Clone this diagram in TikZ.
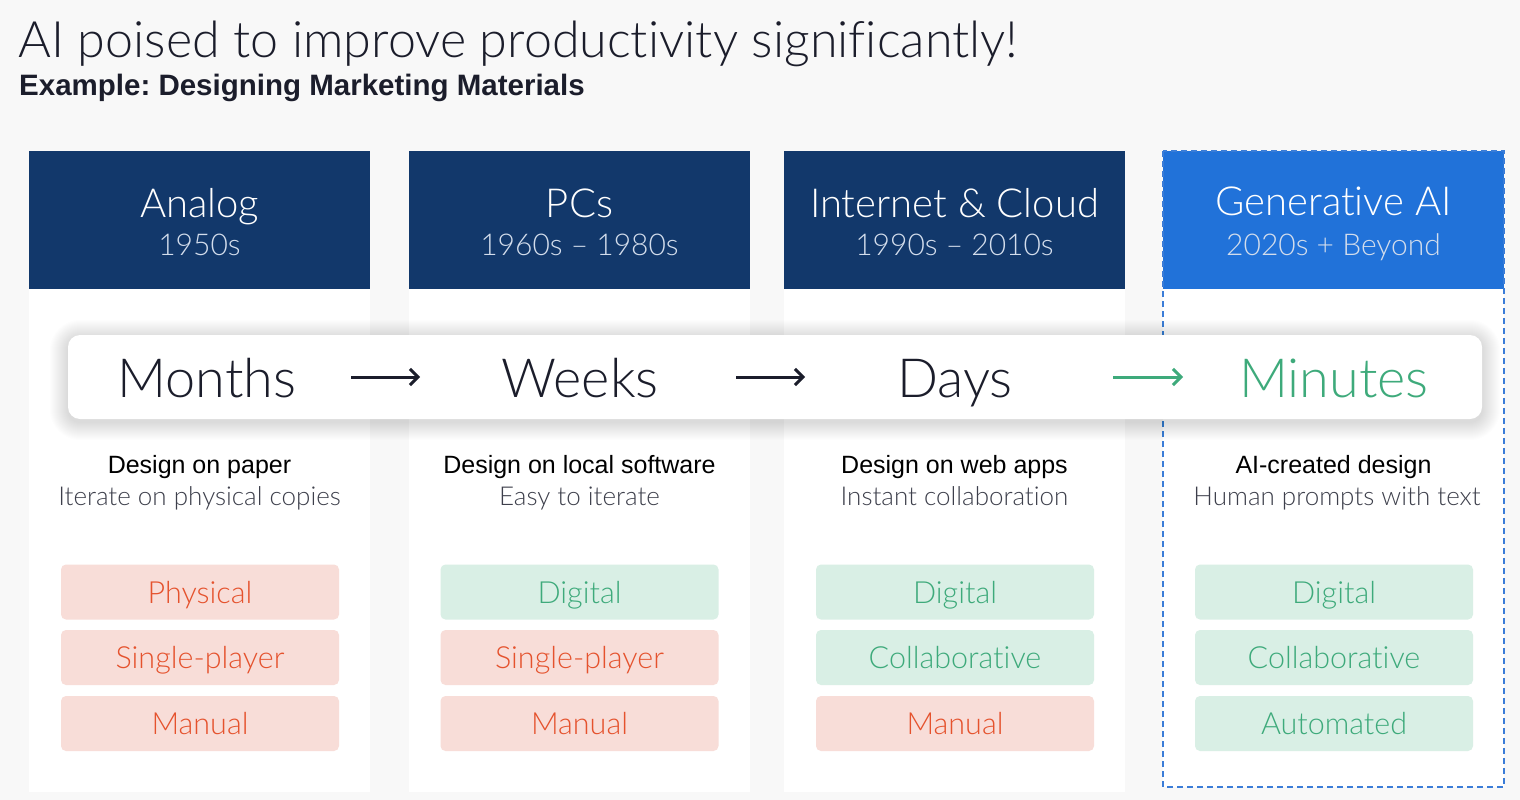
\documentclass[tikz,border=0pt]{standalone}
\usepackage{fontspec}
\setmainfont{Lato}[Ligatures=NoCommon]
\newfontfamily\lightfont{Lato Light}[Ligatures=NoCommon]
\newfontfamily\arialfont{Liberation Sans}
\usetikzlibrary{arrows.meta}
\frenchspacing

\definecolor{pagebg}{HTML}{F8F8F8}
\definecolor{navy}{HTML}{12386B}
\definecolor{aiblue}{HTML}{2172D9}
\definecolor{dashblue}{HTML}{3B7DD8}
\definecolor{ink}{HTML}{1B1D2B}
\definecolor{yearink}{HTML}{D3DDEC}
\definecolor{mint}{HTML}{3EAA7B}
\definecolor{mintbg}{HTML}{D9EFE5}
\definecolor{coral}{HTML}{E5522D}
\definecolor{coralbg}{HTML}{F8DDD8}

\newcommand{\fs}[1]{\fontsize{#1}{#1}\selectfont}

\begin{document}
\begin{tikzpicture}[x=1pt,y=-1pt,
  panel/.style={fill=white, draw=none, minimum width=341pt, minimum height=641pt, inner sep=0pt, anchor=north},
  header/.style={fill=navy, minimum width=341pt, minimum height=138pt, inner sep=0pt, anchor=north},
  era/.style={anchor=base, text=white, font=\lightfont\fs{40}},
  years/.style={anchor=base, text=yearink, font=\lightfont\fs{30}},
  band/.style={fill=white, rounded corners=12pt, minimum width=1414pt, minimum height=84pt, inner sep=0pt},
  haze/.style={fill=black, fill opacity=0.009},
  pace/.style={anchor=base, text=ink, font=\lightfont\fs{54}},
  flow/.style={line width=3pt, -{Straight Barb[length=8pt,width=16pt,line width=3pt]}},
  what/.style={anchor=base, text=black, font=\arialfont\fs{25}},
  how/.style={anchor=base, text=ink!85, font=\lightfont\fs{26}},
  tag/.style={rounded corners=5pt, minimum width=278pt, minimum height=55pt, inner sep=0pt,
    text height=22pt, text depth=0pt, font=\lightfont\fs{30.5}},
  good/.style={tag, fill=mintbg, text=mint},
  bad/.style={tag, fill=coralbg, text=coral},
]
\useasboundingbox (0,0) rectangle (1520,800);
\fill[pagebg] (0,0) rectangle (1520,800);

% title block
\node[anchor=base west, inner sep=0pt, text=ink, font=\lightfont\fs{50.2}] (title) at (18,58)
  {AI poised to improve productivity significantly!};
\node[anchor=base west, inner sep=0pt, text=ink, font=\arialfont\bfseries\fs{29.5}] (subtitle) at (19,95)
  {Example: Designing Marketing Materials};

% column panels
\node[panel] (p1) at (199.5,151) {};
\node[panel] (p2) at (579.5,151) {};
\node[panel] (p3) at (954.5,151) {};
\node[panel, minimum height=636pt] (p4) at (1333.5,151) {};

% era headers
\node[header] (h1) at (199.5,151) {};
\node[header] (h2) at (579.5,151) {};
\node[header] (h3) at (954.5,151) {};
\node[header, fill=aiblue] (h4) at (1333.5,151) {};

\node[era] (e1) at (199.5,217) {Analog};
\node[years] (y1) at (199.5,255) {1950s};
\node[era] (e2) at (579.5,217) {PCs};
\node[years] (y2) at (579.5,255) {1960s – 1980s};
\node[era] (e3) at (954.5,217) {Internet \& Cloud};
\node[years] (y3) at (954.5,255) {1990s – 2010s};
\node[era] (e4) at (1333.5,215) {Generative AI};
\node[years] (y4) at (1333.5,255) {2020s + Beyond};

% highlight frame around the newest era
\draw[dashblue, line width=1.8pt, dash pattern=on 6pt off 4pt] (1163,151) rectangle (1504,787);

% soft shadow under the band, built from stacked translucent layers
\foreach \g in {1,...,18}
  \fill[haze, rounded corners={12pt+\g pt}] (68-\g,335-\g+3) rectangle (1482+\g,419+\g+3);

% time-to-design band
\node[band] (band) at (775,377) {};
\node[pace] (t1) at (207,397) {Months};
\node[pace] (t2) at (580,397) {Weeks};
\node[pace] (t3) at (955,397) {Days};
\node[pace, text=mint] (t4) at (1334,397) {Minutes};

\coordinate (a1s) at (351,377); \coordinate (a1e) at (420,377);
\coordinate (a2s) at (736,377); \coordinate (a2e) at (805,377);
\coordinate (a3s) at (1113,377); \coordinate (a3e) at (1183,377);
\draw[flow, ink] (a1s) -- (a1e);
\draw[flow, ink] (a2s) -- (a2e);
\draw[flow, mint] (a3s) -- (a3e);

% descriptions
\node[what] (d1) at (199.5,473) {Design on paper};
\node[how]  (s1) at (199.5,505) {Iterate on physical copies};
\node[what] (d2) at (579.5,473) {Design on local software};
\node[how]  (s2) at (579.5,505) {Easy to iterate};
\node[what] (d3) at (954.5,473) {Design on web apps};
\node[how]  (s3) at (954.5,505) {Instant collaboration};
\node[what] (d4) at (1333.5,473) {AI-created design};
\node[how]  (s4) at (1337,505) {Human prompts with text};

% attribute tags
\node[bad]  (g11) at (200,592)   {Physical};
\node[bad]  (g12) at (200,657.5) {Single-player};
\node[bad]  (g13) at (200,723.5) {Manual};
\node[good] (g21) at (579.5,592)   {Digital};
\node[bad]  (g22) at (579.5,657.5) {Single-player};
\node[bad]  (g23) at (579.5,723.5) {Manual};
\node[good] (g31) at (955,592)   {Digital};
\node[good] (g32) at (955,657.5) {Collaborative};
\node[bad]  (g33) at (955,723.5) {Manual};
\node[good] (g41) at (1334,592)   {Digital};
\node[good] (g42) at (1334,657.5) {Collaborative};
\node[good] (g43) at (1334,723.5) {Automated};
\end{tikzpicture}
\end{document}
